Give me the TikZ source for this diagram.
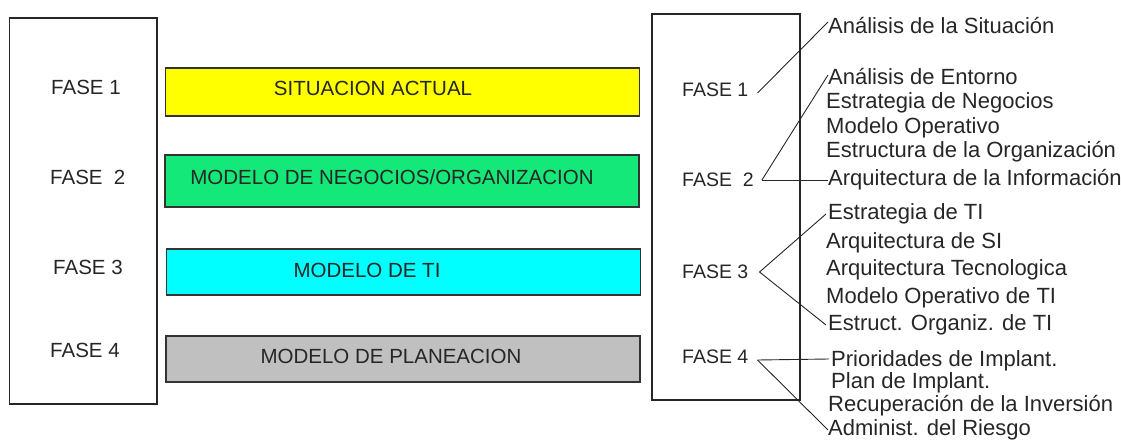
\documentclass[tikz,border=0pt]{standalone}
\usepackage{fontspec}
\setmainfont{Liberation Sans}
\begin{document}
\begin{tikzpicture}[x=1pt,y=-1pt,
  frame/.style={draw=black!85,line width=1.3pt},
  bar/.style={draw=black!80,line width=1.3pt,minimum width=474pt,minimum height=48pt,inner sep=0pt},
  txt/.style={font=\fontsize{20.5}{24}\selectfont,inner sep=0pt,text=black!85},
  rtxt/.style={font=\fontsize{19.5}{24}\selectfont,inner sep=0pt,text=black!85,anchor=west},
  item/.style={font=\fontsize{22}{26}\selectfont,inner sep=0pt,anchor=west,text=black!85},
  conn/.style={draw=black!85,line width=0.9pt}]
\useasboundingbox (0,0) rectangle (1121,441);
\definecolor{byellow}{RGB}{255,255,0}
\definecolor{bgreen}{RGB}{20,232,120}
\definecolor{bcyan}{RGB}{0,255,255}
\definecolor{bgray}{RGB}{192,192,192}
% left frame
\draw[frame] (9.5,18) rectangle (157,404);
\node[txt,anchor=west] (l1) at (51,87) {FASE 1};
\node[txt,anchor=west] (l2) at (50,177) {FASE\ \ 2};
\node[txt,anchor=west] (l3) at (53,267) {FASE 3};
\node[txt,anchor=west] (l4) at (50,350) {FASE 4};
% bars
\node[bar,fill=byellow] (b1) at (402.5,92) {};
\node[bar,fill=bgreen,minimum height=52pt] (b2) at (402,181) {};
\node[bar,fill=bcyan,minimum height=46pt] (b3) at (403.5,272) {};
\node[bar,fill=bgray,minimum height=46pt] (b4) at (403,359) {};
\node[txt] (t1) at (373,88) {SITUACION ACTUAL};
\node[txt] (t2) at (392,177) {MODELO DE NEGOCIOS/ORGANIZACION};
\node[txt] (t3) at (367,270) {MODELO DE TI};
\node[txt] (t4) at (391,356) {MODELO DE PLANEACION};
% right frame
\draw[frame] (652,14) rectangle (800,400);
\node[rtxt] (r1) at (682,90) {FASE 1};
\node[rtxt] (r2) at (682,180) {FASE\ \ 2};
\node[rtxt] (r3) at (682,272) {FASE 3};
\node[rtxt] (r4) at (682,357) {FASE 4};
% items
\node[item] (a1) at (828,26) {Análisis de la Situación};
\node[item] (a2) at (828,77) {Análisis de Entorno};
\node[item] (a3) at (826,103) {Estrategia de Negocios};
\node[item] (a4) at (826,128) {Modelo Operativo};
\node[item] (a5) at (826,152) {Estructura de la Organización};
\node[item] (a6) at (828,180) {Arquitectura de la Información};
\node[item] (c1) at (828,214) {Estrategia de TI};
\node[item] (c2) at (826,243) {Arquitectura de SI};
\node[item] (c3) at (826,270) {Arquitectura Tecnologica};
\node[item] (c4) at (826,298) {Modelo Operativo de TI};
\node[item] (c5) at (828,325) {Estruct. Organiz. de TI};
\node[item] (d1) at (831,361) {Prioridades de Implant.};
\node[item] (d2) at (831,383) {Plan de Implant.};
\node[item] (d3) at (828,406) {Recuperación de la Inversión};
\node[item] (d4) at (828,430) {Administ. del Riesgo};
% connectors
\draw[conn] ([xshift=9pt,yshift=-3pt]r1.east) -- ([yshift=4pt]a1.west);
\draw[conn] ([xshift=8pt]r2.east) -- ([yshift=2pt]a2.west);
\draw[conn] ([xshift=8pt]r2.east) -- (a6.west);
\draw[conn] ([xshift=11pt]r3.east) -- ([xshift=-2pt]c1.west);
\draw[conn] ([xshift=11pt]r3.east) -- ([xshift=-2pt]c5.west);
\draw[conn] ([xshift=9pt,yshift=-3pt]r4.east) -- ([xshift=-2pt,yshift=2pt]d1.west);
\draw[conn] ([xshift=9pt,yshift=-3pt]r4.east) -- (d4.west);
\end{tikzpicture}
\end{document}
